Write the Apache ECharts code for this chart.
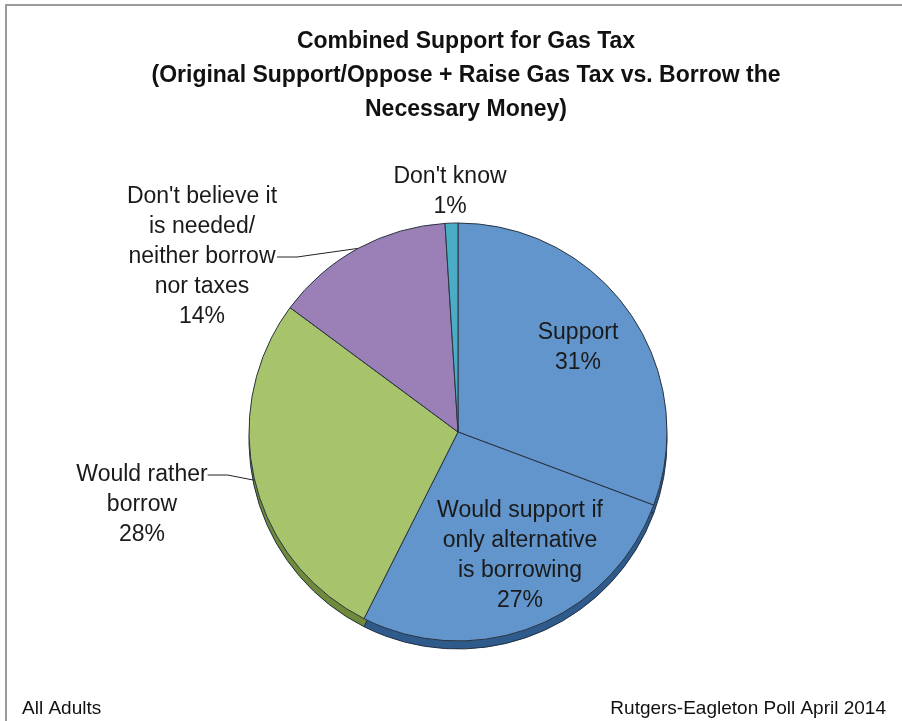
<!DOCTYPE html>
<html><head><meta charset="utf-8">
<script src="https://cdn.jsdelivr.net/npm/echarts@6/dist/echarts.min.js"></script>
<style>html,body{margin:0;padding:0;background:#fff}#c{width:902px;height:721px}</style>
</head><body><div id="c"></div>
<script>
const categories = ["Support", "Would support if\nonly alternative\nis borrowing", "Would rather\nborrow", "Don't believe it\nis needed/\nneither borrow\nnor taxes", "Don't know"];
const values = [31, 27, 28, 14, 1];
const titleLines = ["Combined Support for Gas Tax", "(Original Support/Oppose + Raise Gas Tax vs. Borrow the", "Necessary Money)"];
const footLeft = "All Adults";
const footRight = "Rutgers-Eagleton Poll April 2014";

const colors = ['#6195CB', '#6195CB', '#A7C36B', '#9A80B7', '#4BACC6'];
const rimColors = ['#2F5B8C', '#2F5B8C', '#6F8A3A', '#654F82', '#2D7D92'];
const FONT = 'Liberation Sans';
const labelPos = [[578, 348], [520, 556], [142, 475], [202, 257], [450, 192]];

const chart = echarts.init(document.getElementById('c'));
chart.setOption({
  animation: false,
  title: {
    text: titleLines.join('\n'), left: 461, top: 20, textAlign: 'center',
    textStyle: { fontFamily: FONT, fontWeight: 'bold', fontSize: 23, lineHeight: 34, color: '#111' }
  },
  graphic: [
    { type: 'rect', shape: { x: 6, y: 5, width: 905, height: 730 }, style: { fill: 'none', stroke: '#9a9a9a', lineWidth: 2 }, silent: true },
    { type: 'text', left: 22, top: 699, style: { text: footLeft, font: '19px ' + FONT, fill: '#111' } },
    { type: 'text', right: 16, top: 699, style: { text: footRight, font: '19px ' + FONT, fill: '#111' } }
  ],
  series: [
    {
      type: 'pie', silent: true, z: 1, center: [458, 440], radius: 209, startAngle: 90, clockwise: true,
      label: { show: false }, labelLine: { show: false },
      itemStyle: { borderColor: '#1f2f40', borderWidth: 1 },
      data: values.map((v, i) => ({ value: v, name: 'rim' + i, itemStyle: { color: rimColors[i] } }))
    },
    {
      type: 'pie', z: 2, center: [458, 432], radius: 209, startAngle: 90, clockwise: true,
      itemStyle: { borderColor: '#2a3440', borderWidth: 1 },
      label: {
        show: true,
        formatter: p => (p.dataIndex === 2 ? ' \n \n' : '') + p.name + '\n' + p.value + '%',
        fontFamily: FONT, fontSize: 23, lineHeight: 30, color: '#1a1a1a', align: 'center'
      },
      labelLine: { show: true, length: 10, length2: 20, lineStyle: { color: '#222', width: 1 } },
      labelLayout: p => ({ x: labelPos[p.dataIndex][0], y: labelPos[p.dataIndex][1], align: 'center', verticalAlign: 'middle' }),
      data: values.map((v, i) => ({
        value: v, name: categories[i], itemStyle: { color: colors[i] },
        label: { position: i < 2 ? 'inside' : 'outside' },
        labelLine: { show: i === 2 || i === 3 }
      }))
    }
  ]
});
</script></body></html>
